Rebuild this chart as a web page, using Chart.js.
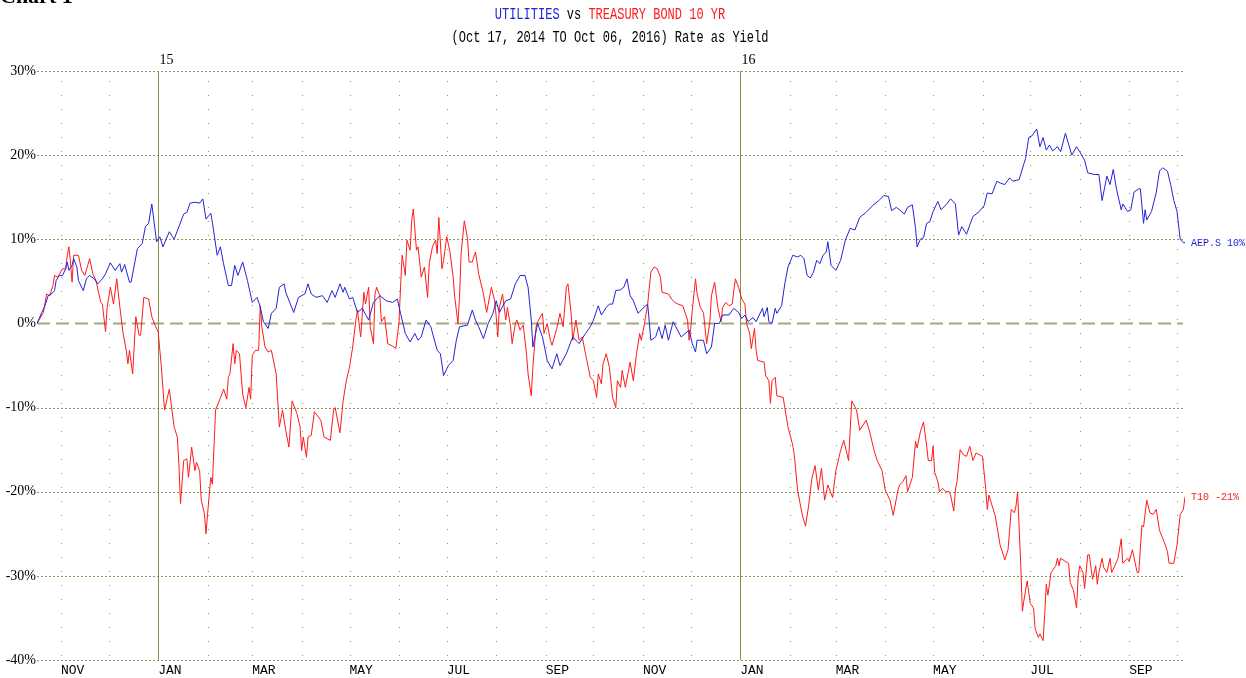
<!DOCTYPE html>
<html>
<head>
<meta charset="utf-8">
<script src="https://cdn.jsdelivr.net/npm/chart.js@4.4.0/dist/chart.umd.min.js"></script>
<style>
  body { margin: 0; background: #fff; }
  #wrap { position: relative; width: 1246px; height: 678px; overflow: hidden; }
  #corner { position: absolute; left: 0; top: -15px; font: bold 22px/22px "Liberation Serif", serif; color: #000; }
  .ttl { position: absolute; left: 0; width: 1220px; text-align: center; font-family: "Liberation Mono", monospace; font-size: 16px; line-height: 16px; color: #000; transform: scaleX(0.75); white-space: pre; }
  #t1 { top: 7px; }
  #t2 { top: 30px; }
  .blue { color: #2323d6; }
  .red { color: #ff1a1a; }
</style>
</head>
<body>
<div id="wrap">
  <div id="corner">Chart 1</div>
  <div class="ttl" id="t1"><span class="blue">UTILITIES</span> vs <span class="red">TREASURY BOND 10 YR</span></div>
  <div class="ttl" id="t2">(Oct 17, 2014 TO Oct 06, 2016) Rate as Yield</div>
  <canvas id="chart" width="1246" height="678"></canvas>
</div>
<script>
// days counted from Oct 17, 2014
const monthDays = [15, 45, 76, 107, 135, 166, 196, 227, 257, 288, 319, 349, 380, 410, 441, 472, 501, 532, 562, 593, 623, 654, 685, 715];
const monthLabels = ["NOV", "", "JAN", "", "MAR", "", "MAY", "", "JUL", "", "SEP", "", "NOV", "", "JAN", "", "MAR", "", "MAY", "", "JUL", "", "SEP", ""];
const yearDays = [76, 441];
const yearLabels = ["15", "16"];

const utilDays = [0, 3, 5, 7, 9, 11, 12, 14, 16, 18, 19, 20, 22, 23, 25, 26, 29, 31, 33, 36, 38, 41, 43, 46, 49, 52, 53, 55, 58, 59,
  63, 66, 68, 70, 72, 75, 77, 79, 83, 86, 89, 92, 94, 96, 99, 102, 104, 106, 109, 110, 113, 115, 117, 120, 122, 124, 126, 129, 132, 135,
  138, 140, 142, 145, 147, 150, 152, 155, 156, 161, 164, 168, 170, 172, 175, 179, 182, 185, 187, 190, 192, 193, 196, 198, 201, 204, 208, 211, 215, 219,
  223, 226, 228, 231, 234, 237, 239, 241, 244, 247, 251, 253, 255, 258, 261, 263, 265, 270, 273, 275, 277, 280, 283, 286, 288, 290, 294, 297, 300, 303,
  306, 308, 310, 311, 314, 317, 320, 323, 326, 328, 332, 336, 340, 344, 347, 349, 352, 354, 357, 359, 361, 363, 366, 368, 370, 372, 374, 377, 380, 383,
  385, 388, 390, 392, 394, 396, 399, 404, 409, 411, 413, 414, 418, 420, 423, 425, 428, 430, 434, 437, 440, 442, 444, 446, 449, 451, 455, 456, 458, 459,
  461, 463, 464, 467, 469, 471, 474, 477, 479, 481, 483, 485, 487, 489, 491, 493, 495, 496, 498, 501, 504, 507, 510, 513, 516, 520, 524, 528, 531, 534,
  536, 539, 541, 544, 546, 549, 551, 552, 554, 556, 558, 560, 562, 565, 567, 571, 573, 576, 578, 580, 583, 585, 587, 591, 594, 596, 599, 602, 604, 607,
  610, 612, 616, 619, 620, 622, 624, 627, 629, 631, 633, 635, 637, 640, 642, 645, 647, 649, 652, 654, 657, 659, 663, 666, 668, 671, 673, 675, 677, 680,
  681, 684, 686, 688, 691, 692, 694, 695, 696, 699, 702, 704, 706, 709, 711, 713, 715, 717, 719, 720];
const utilValues = [0, 1.3, 2.1, 3.3, 3.5, 3.9, 5.1, 5.7, 5.7, 6.5, 7.3, 6.3, 6.9, 7.7, 6.7, 5.1, 3.9, 5.3, 5.7, 5.3, 4.7, 5.3, 5.9, 7.2, 6.3, 7.1, 6.1, 7.0, 4.9, 4.9,
  8.9, 9.5, 11.5, 11.9, 14.2, 9.7, 10.3, 9.1, 10.9, 10.0, 11.5, 13.0, 13.2, 14.3, 14.4, 14.3, 14.8, 12.4, 13.1, 12.0, 8.1, 9.1, 7.1, 4.5, 4.5, 6.9, 5.7, 7.3, 5.1, 2.5,
  3.1, 2.0, 0.2, -0.6, 1.2, 1.8, 4.3, 4.7, 3.7, 1.3, 3.1, 3.5, 4.7, 3.5, 3.1, 3.3, 2.5, 3.9, 3.1, 4.7, 3.7, 4.3, 2.9, 3.1, 1.3, 1.8, 0.4, 2.5, 3.3, 2.7,
  2.5, 2.9, 1.2, -1.2, -2.2, -1.2, -2.0, -1.6, 0.4, -0.4, -3.2, -3.6, -6.2, -5.0, -4.4, -2.0, -0.4, -0.2, 1.6, 0.4, -0.4, -1.8, 0.0, 1.2, 2.7, 1.3, 2.7, 2.9, 4.7, 5.7,
  5.7, 4.3, 0.4, -2.8, 0.0, -1.6, -4.4, -5.4, -3.6, -5.0, -3.6, -1.6, -2.4, -1.2, -0.4, 0.4, 2.1, 1.0, 1.9, 2.3, 2.3, 3.9, 4.0, 4.3, 5.3, 3.3, 2.7, 1.2, 1.8, 2.3,
  -2.0, -1.6, -0.4, -1.8, -0.2, -2.0, 0.2, -1.6, -0.8, -2.4, -3.4, -2.0, -2.0, -3.6, -2.8, 0.0, 0.0, 1.0, 1.0, 1.8, 1.3, 0.6, 1.0, 0.2, 0.7, 0.2, 1.8, 0.8, 1.9, 0.2,
  0.0, 1.8, 1.2, 2.1, 4.7, 6.7, 8.1, 7.9, 8.1, 7.7, 5.7, 5.4, 6.1, 7.5, 7.1, 8.1, 8.5, 9.7, 6.9, 6.3, 7.5, 9.9, 11.3, 11.1, 12.6, 13.2, 14.0, 14.6, 15.2, 15.1,
  13.4, 13.8, 13.5, 13.0, 13.8, 14.1, 11.3, 9.1, 10.0, 10.2, 11.9, 12.1, 13.3, 14.5, 13.5, 14.3, 14.8, 14.2, 10.5, 11.5, 10.6, 11.7, 12.7, 13.3, 14.0, 15.5, 15.4, 16.9, 16.7, 16.5,
  17.3, 16.9, 17.1, 19.0, 19.6, 22.1, 22.3, 23.1, 21.0, 22.1, 20.6, 21.2, 20.5, 21.0, 20.4, 22.6, 21.3, 20.0, 21.0, 20.4, 19.4, 17.9, 17.7, 17.7, 14.6, 17.5, 16.5, 18.3, 16.0, 13.5,
  14.2, 13.3, 13.5, 15.6, 16.0, 16.0, 11.9, 13.5, 12.3, 13.3, 15.6, 18.1, 18.5, 18.1, 16.5, 14.6, 13.3, 10.0, 9.6, 9.6];

const tsyDays = [0, 4, 6, 8, 10, 11, 13, 16, 18, 19, 20, 21, 22, 23, 26, 28, 30, 33, 35, 37, 40, 41, 43, 44, 46, 48, 50, 52, 54, 56,
  57, 58, 60, 62, 64, 65, 67, 70, 72, 74, 76, 78, 80, 83, 86, 88, 89, 90, 92, 94, 95, 97, 99, 100, 102, 103, 105, 106, 107, 109,
  110, 112, 116, 117, 119, 120, 121, 123, 124, 125, 127, 129, 131, 133, 134, 135, 137, 139, 140, 141, 143, 145, 147, 150, 152, 154, 156, 158, 160, 163,
  165, 166, 167, 169, 170, 172, 174, 178, 180, 182, 184, 186, 187, 190, 192, 194, 196, 198, 200, 201, 203, 205, 206, 208, 209, 211, 212, 213, 215, 216,
  218, 220, 224, 225, 227, 228, 229, 231, 232, 234, 235, 236, 238, 239, 241, 243, 245, 246, 248, 250, 251, 252, 254, 255, 257, 259, 261, 262, 263, 264,
  265, 266, 268, 270, 271, 273, 275, 277, 280, 282, 283, 285, 287, 288, 289, 290, 292, 294, 295, 297, 298, 300, 301, 303, 305, 307, 308, 310, 311, 313,
  314, 317, 318, 320, 322, 323, 326, 328, 330, 332, 333, 335, 336, 338, 340, 342, 344, 347, 349, 351, 352, 354, 355, 357, 359, 361, 363, 364, 366, 367,
  369, 372, 374, 376, 378, 379, 381, 383, 385, 387, 389, 391, 392, 396, 398, 400, 402, 405, 408, 409, 410, 411, 413, 414, 416, 418, 420, 422, 423, 425,
  427, 429, 430, 432, 434, 436, 438, 440, 442, 444, 445, 447, 448, 450, 451, 452, 456, 457, 459, 460, 461, 463, 464, 468, 469, 471, 474, 475, 477, 480,
  482, 484, 486, 488, 490, 492, 494, 496, 499, 501, 504, 506, 509, 511, 514, 516, 520, 522, 525, 527, 530, 532, 535, 537, 540, 541, 543, 545, 546, 549,
  551, 552, 554, 556, 558, 559, 561, 562, 563, 565, 566, 568, 570, 572, 573, 575, 576, 577, 579, 581, 583, 585, 587, 589, 593, 595, 596, 597, 601, 604,
  607, 609, 610, 611, 613, 614, 615, 617, 618, 619, 621, 623, 625, 626, 628, 629, 631, 632, 633, 634, 636, 639, 640, 641, 642, 645, 647, 648, 650, 652,
  653, 654, 656, 657, 659, 660, 662, 664, 665, 666, 668, 669, 671, 673, 674, 676, 678, 680, 681, 684, 685, 687, 690, 691, 693, 694, 696, 698, 700, 702,
  704, 707, 709, 710, 713, 715, 717, 719, 720];
const tsyValues = [0, 1.3, 3.5, 3.3, 4.5, 5.7, 5.5, 6.5, 6.5, 8.1, 9.1, 7.3, 4.9, 8.1, 8.1, 6.3, 5.7, 7.7, 5.9, 5.1, 2.5, 2.3, -1.0, 1.9, 4.3, 2.3, 5.3, 1.9, -1.2, -3.2,
  -4.8, -3.2, -6.0, 0.8, -1.4, -1.4, 3.1, 2.9, 0.8, -0.2, -1.0, -5.2, -10.3, -7.8, -12.3, -13.5, -16.7, -21.4, -16.3, -16.1, -18.3, -14.7, -17.5, -16.5, -17.5, -21.0, -22.6, -25.0, -22.6, -18.3,
  -19.1, -10.3, -8.4, -7.8, -9.0, -6.4, -6.0, -2.4, -4.8, -3.2, -3.6, -8.4, -10.0, -7.6, -9.0, -3.8, -3.2, -3.2, 2.1, -0.4, -2.8, -3.4, -3.2, -6.0, -12.3, -10.3, -12.7, -14.7, -9.2, -10.7,
  -12.3, -15.1, -13.5, -15.9, -13.5, -13.3, -10.5, -11.5, -13.5, -13.7, -13.9, -10.3, -10.0, -13.0, -9.2, -6.8, -5.2, -2.8, 0.4, 1.6, -1.6, 3.7, 2.3, 4.3, -0.4, -2.4, 3.5, 4.3, 3.3, 0.2,
  0.8, -2.4, -2.8, -3.0, 0.0, 4.3, 8.1, 5.7, 9.9, 8.7, 12.2, 13.6, 8.7, 9.1, 5.5, 6.7, 3.1, 7.1, 9.1, 9.9, 8.3, 12.6, 6.5, 7.5, 10.3, 8.5, 5.5, 3.1, 1.6, 0.0,
  3.1, 8.3, 12.2, 10.1, 7.3, 7.3, 8.5, 5.9, 3.5, 1.3, 2.3, 4.3, 2.7, 0.8, -1.6, 1.9, 3.5, 0.4, 1.9, -0.4, -2.4, 0.0, 0.4, -0.8, -0.2, -3.6, -6.0, -8.6, -5.2, -0.4,
  0.2, 1.2, -1.2, 0.0, -2.0, -2.6, -0.6, 1.2, -0.4, 4.3, 4.7, 1.2, -2.0, 0.4, -2.0, -1.6, -3.6, -6.4, -6.8, -8.8, -6.0, -7.2, -4.8, -3.6, -5.2, -8.8, -10.0, -6.8, -7.6, -5.6,
  -7.6, -4.6, -6.8, -3.6, -1.2, -2.0, 0.0, 2.3, 6.1, 6.7, 6.5, 5.5, 3.7, 3.5, 2.9, 2.5, 2.3, 2.1, 0.4, -2.0, -0.6, 1.6, 5.3, 3.5, 1.9, 1.3, -2.4, 0.2, 3.3, 4.9,
  1.9, 0.2, 1.9, 2.5, 2.1, 2.3, 5.3, 4.3, 2.9, 2.3, 0.0, -1.2, -3.0, -0.6, -3.2, -4.4, -4.6, -6.2, -6.8, -9.5, -6.8, -6.4, -8.6, -8.8, -10.0, -12.3, -14.5, -15.7, -19.8, -22.8,
  -24.1, -21.6, -18.4, -16.9, -19.8, -17.2, -21.0, -19.2, -20.7, -17.5, -15.1, -13.9, -16.3, -9.2, -10.3, -12.7, -11.5, -12.7, -15.1, -16.3, -17.5, -19.8, -21.0, -22.8, -19.8, -19.2, -18.8, -18.1, -20.0, -18.3,
  -14.0, -14.8, -12.9, -11.7, -14.6, -16.3, -16.3, -14.6, -17.7, -18.8, -20.0, -19.6, -20.0, -20.0, -20.4, -22.3, -19.8, -18.8, -15.0, -15.6, -15.8, -14.6, -16.3, -15.4, -15.8, -19.6, -22.1, -20.4, -22.9, -26.3,
  -28.1, -26.9, -24.6, -22.1, -22.5, -21.7, -20.0, -28.8, -34.2, -32.9, -30.6, -33.3, -33.8, -36.3, -37.3, -36.9, -37.7, -34.6, -31.0, -32.3, -29.6, -28.8, -27.9, -28.8, -27.9, -28.3, -28.5, -30.8, -31.7, -33.8,
  -30.0, -28.8, -29.6, -31.5, -27.5, -27.5, -30.4, -28.8, -31.0, -29.6, -27.9, -29.0, -29.6, -27.9, -29.6, -28.8, -27.9, -25.6, -28.5, -27.9, -28.3, -26.9, -29.6, -29.6, -24.0, -24.2, -21.0, -22.5, -22.7, -22.1,
  -24.6, -26.0, -27.1, -28.5, -28.5, -26.3, -22.7, -22.1, -20.6];

const seriesNames = ["AEP.S", "T10"];
const BLUE = "#2323d6";
const RED = "#ff1a1a";
const GRID = "#93935a";

const toPoints = (days, values) => days.map((d, i) => ({ x: d, y: values[i] }));

const gridLines = {
  id: "gridLines",
  beforeDatasetsDraw(chart) {
    const { ctx, chartArea: { left, right, top, bottom }, scales: { x, y } } = chart;
    ctx.save();
    ctx.lineWidth = 1;
    ctx.strokeStyle = GRID;

    // month dots
    ctx.setLineDash([1, 13]);
    monthDays.forEach((d) => {
      if (yearDays.includes(d)) return;
      const px = Math.round(x.getPixelForValue(d)) + 0.5;
      ctx.beginPath();
      ctx.moveTo(px, top + 10);
      ctx.lineTo(px, bottom);
      ctx.stroke();
    });

    // horizontal lines
    y.ticks.forEach((t) => {
      const py = Math.round(y.getPixelForValue(t.value)) + 0.5;
      ctx.beginPath();
      if (t.value === 0) {
        ctx.setLineDash([13, 6]);
        ctx.lineWidth = 2;
        ctx.strokeStyle = "#a6a682";
      } else {
        ctx.setLineDash([2, 2]);
        ctx.lineWidth = 1;
        ctx.strokeStyle = GRID;
      }
      ctx.moveTo(left, py);
      ctx.lineTo(right - 2, py);
      ctx.stroke();
    });

    // year lines
    ctx.setLineDash([]);
    ctx.lineWidth = 1;
    ctx.strokeStyle = "#8e8e4c";
    ctx.fillStyle = "#000";
    ctx.font = "14px 'Liberation Serif', serif";
    ctx.textAlign = "left";
    ctx.textBaseline = "middle";
    yearDays.forEach((d, i) => {
      const px = Math.round(x.getPixelForValue(d)) + 0.5;
      ctx.beginPath();
      ctx.moveTo(px, top);
      ctx.lineTo(px, bottom);
      ctx.stroke();
      ctx.fillText(yearLabels[i], px + 1, top - 11);
    });
    ctx.restore();
  },
  afterDatasetsDraw(chart) {
    const { ctx, scales: { x, y } } = chart;
    ctx.save();
    ctx.font = "10px 'Liberation Mono', monospace";
    ctx.textAlign = "left";
    ctx.textBaseline = "middle";
    chart.data.datasets.forEach((ds, i) => {
      const last = ds.data[ds.data.length - 1];
      ctx.fillStyle = ds.borderColor;
      ctx.fillText(seriesNames[i] + " " + Math.round(last.y) + "%", x.getPixelForValue(last.x) + 6, y.getPixelForValue(last.y) + 1);
    });
    ctx.restore();
  },
};

new Chart(document.getElementById("chart"), {
  type: "line",
  data: {
    datasets: [
      { data: toPoints(utilDays, utilValues), borderColor: BLUE, borderWidth: 1, pointRadius: 0, tension: 0 },
      { data: toPoints(tsyDays, tsyValues), borderColor: RED, borderWidth: 1, pointRadius: 0, tension: 0 },
    ],
  },
  options: {
    responsive: false,
    animation: false,
    layout: { padding: { top: 71, right: 61, left: 0, bottom: 0 } },
    plugins: { legend: { display: false }, tooltip: { enabled: false } },
    scales: {
      x: {
        type: "linear",
        min: 0,
        max: 720,
        grid: { display: false, drawTicks: false },
        border: { display: false },
        afterBuildTicks: (s) => { s.ticks = monthDays.map((v) => ({ value: v })); },
        afterFit: (s) => { s.height = 18; },
        ticks: {
          autoSkip: false,
          maxRotation: 0,
          align: "start",
          padding: 3,
          color: "#000",
          font: { family: "'Liberation Mono', monospace", size: 13 },
          callback: (v, i) => monthLabels[i],
        },
      },
      y: {
        min: -40,
        max: 30,
        grid: { display: false, drawTicks: false },
        border: { display: false },
        afterFit: (s) => { s.width = 37; },
        ticks: {
          stepSize: 10,
          padding: 1,
          color: "#000",
          font: { family: "'Liberation Serif', serif", size: 14 },
          callback: (v) => v + "%",
        },
      },
    },
  },
  plugins: [gridLines],
});
</script>
</body>
</html>
